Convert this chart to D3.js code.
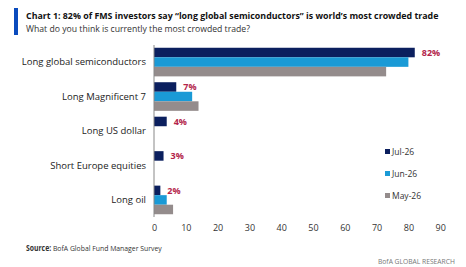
<!DOCTYPE html>
<html>
<head>
<meta charset="utf-8">
<script src="https://cdn.jsdelivr.net/npm/d3@7"></script>
<style>
  body { margin: 0; background: #fff; }
  svg { display: block; font-family: "Open Sans", "Noto Sans", sans-serif; }
</style>
</head>
<body>
<div id="chart"></div>
<script>
// Chart 1: most crowded trade, FMS

const categories = ['Long global semiconductors', 'Long Magnificent 7', 'Long US dollar', 'Short Europe equities', 'Long oil'];
const seriesNames = ['Jul-26', 'Jun-26', 'May-26'];
const jul26 = [82, 7, 4, 3, 2];
const jun26 = [80, 12, 0, 0, 4];
const may26 = [73, 14, 0, 0, 6];
const tickValues = [0, 10, 20, 30, 40, 50, 60, 70, 80, 90];

const colors = ['#0b1f5e', '#1a9ad6', '#948c8c'];
const labelColor = '#b3244a';

const width = 466, height = 267;
const margin = { top: 45, right: 26, bottom: 50, left: 154 };

const svg = d3.select('#chart').append('svg')
    .attr('width', width)
    .attr('height', height);

// squeeze a text horizontally to a target width (the original uses a narrow font)
function fitWidth(sel, x0, y0, target) {
    const w = sel.node().getComputedTextLength();
    const k = Math.min(1, target / w);
    sel.attr('x', 0).attr('y', 0)
        .attr('transform', `translate(${x0},${y0}) scale(${k},1)`);
}

// title block
svg.append('rect')
    .attr('x', 14).attr('y', 8)
    .attr('width', 4).attr('height', 27)
    .attr('fill', '#0a4bbd');

const title = svg.append('text')
    .attr('font-size', 9.6).attr('font-weight', 'bold')
    .attr('fill', '#111')
    .text('Chart 1: 82% of FMS investors say \u201clong global semiconductors\u201d is world\u2019s most crowded trade');
fitWidth(title, 26, 18.5, 413);

const subtitle = svg.append('text')
    .attr('font-size', 9)
    .attr('fill', '#333')
    .text('What do you think is currently the most crowded trade?');
fitWidth(subtitle, 26, 31.5, 224);

// scales
const x = d3.scaleLinear()
    .domain([0, 90])
    .range([margin.left, margin.left + 90 * 3.18]);

const y = d3.scaleBand()
    .domain(categories)
    .range([45, 217])
    .paddingInner(0.17)
    .paddingOuter(0.08);

const ySub = d3.scaleBand()
    .domain(seriesNames)
    .range([0, y.bandwidth()]);

const data = [jul26, jun26, may26];

// bars
const g = svg.append('g');
seriesNames.forEach((s, si) => {
    g.selectAll('.bar-' + si)
        .data(categories.map((c, i) => ({ cat: c, value: data[si][i] })))
        .enter().append('rect')
        .attr('x', x(0))
        .attr('y', d => y(d.cat) + ySub(s))
        .attr('width', d => x(d.value) - x(0))
        .attr('height', ySub.bandwidth())
        .attr('fill', colors[si]);
});

// value labels for latest month
g.selectAll('.val')
    .data(categories.map((c, i) => ({ cat: c, value: jul26[i] })))
    .enter().append('text')
    .attr('x', d => x(d.value) + 7)
    .attr('y', d => y(d.cat) + ySub('Jul-26') + ySub.bandwidth() / 2)
    .attr('dy', '0.35em')
    .attr('font-size', 9).attr('font-weight', 'bold')
    .attr('fill', labelColor)
    .text(d => d.value + '%');

// y axis line + labels
svg.append('line')
    .attr('x1', x(0)).attr('x2', x(0))
    .attr('y1', 45).attr('y2', 217)
    .attr('stroke', '#888').attr('stroke-width', 1);

svg.selectAll('.cat')
    .data(categories)
    .enter().append('text')
    .attr('x', 146)
    .attr('y', d => y(d) + y.bandwidth() / 2)
    .attr('dy', '0.35em')
    .attr('text-anchor', 'end')
    .attr('font-size', 9.5)
    .attr('fill', '#222')
    .text(d => d);

// x tick labels
const xAxis = svg.append('g')
    .attr('transform', 'translate(0,225)')
    .call(d3.axisBottom(x).tickValues(tickValues).tickSize(0).tickPadding(0));
xAxis.select('.domain').remove();
xAxis.selectAll('text')
    .attr('font-size', 9)
    .attr('font-family', '"Open Sans", sans-serif')
    .attr('fill', '#333');

// legend
const legend = svg.append('g');
seriesNames.forEach((s, i) => {
    const ly = 152 + i * 22;
    legend.append('rect')
        .attr('x', 385).attr('y', ly - 3)
        .attr('width', 5).attr('height', 5)
        .attr('fill', colors[i]);
    legend.append('text')
        .attr('x', 392).attr('y', ly)
        .attr('dy', '0.35em')
        .attr('font-size', 8.5)
        .attr('fill', '#333')
        .text(s);
});

// footer
const src = svg.append('text')
    .attr('font-size', 8)
    .attr('fill', '#333');
src.append('tspan').attr('font-weight', 'bold').text('Source:');
src.append('tspan').text('  BofA Global Fund Manager Survey');
fitWidth(src, 26, 251, 136);

const brand = svg.append('text')
    .attr('font-size', 7.5)
    .attr('fill', '#777')
    .text('BofA GLOBAL RESEARCH');
fitWidth(brand, 378, 264, 77);
</script>
</body>
</html>
